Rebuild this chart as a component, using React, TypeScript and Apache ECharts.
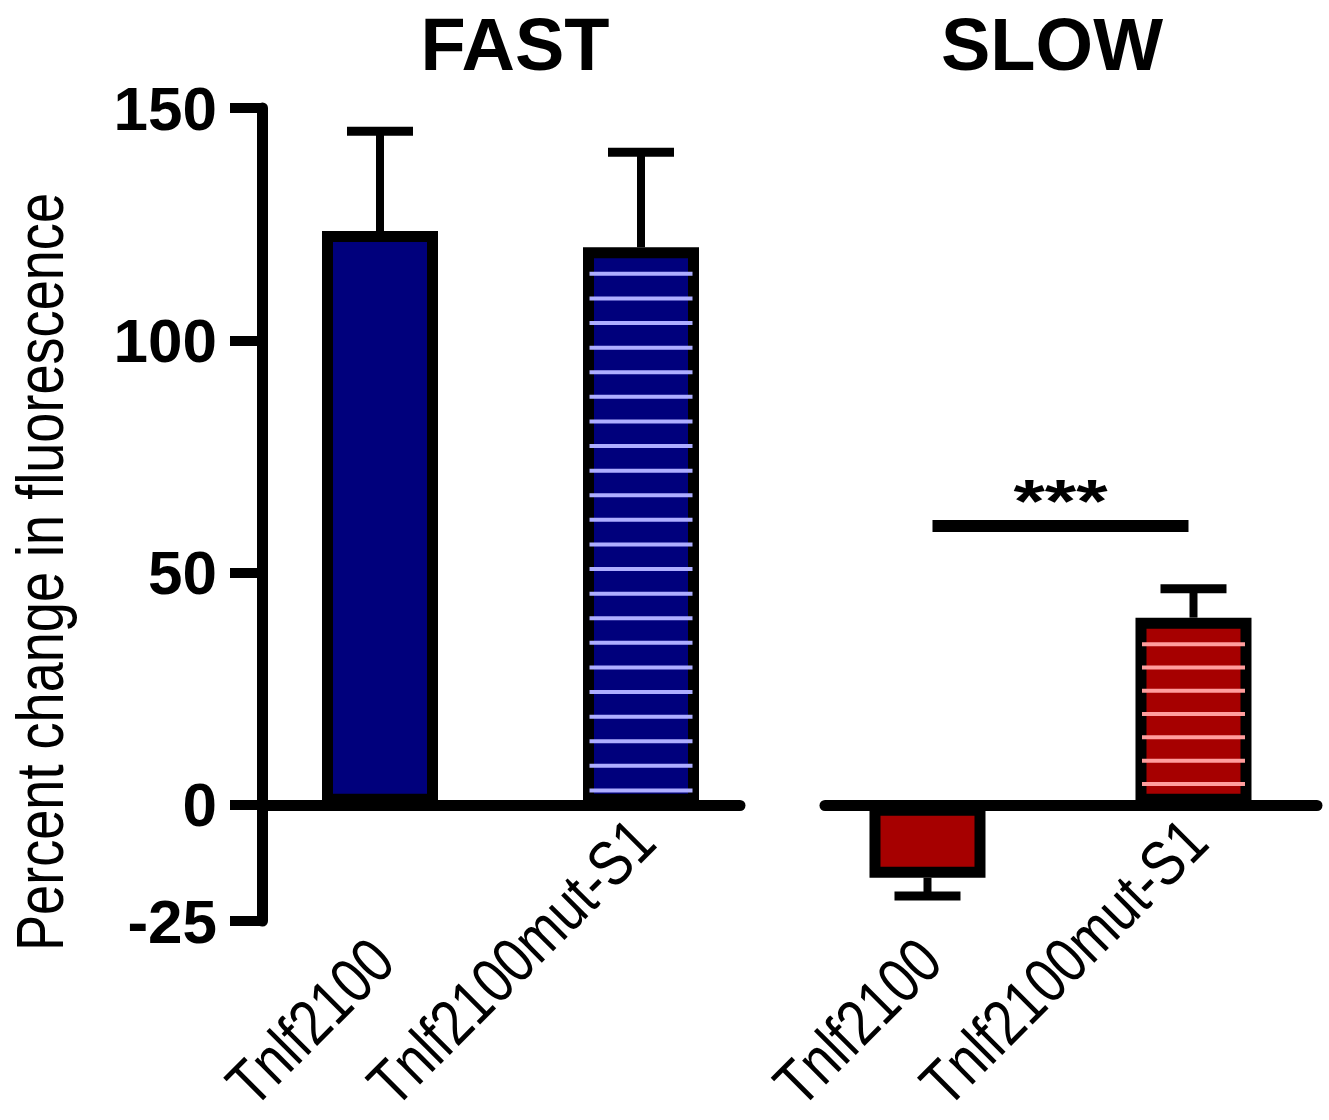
import React, { useEffect, useRef } from 'react';
import * as echarts from 'echarts';

// ---------- data ----------
const panelTitles = ['FAST', 'SLOW'];
const categories = ['Tnlf2100', 'Tnlf2100mut-S1'];
const hatched = [false, true];
const fastMeans = [123.5, 120];
const fastErrTop = [145, 140.5];
const slowMeans = [-15.7, 40.3];
const slowErrEnd = [-19.6, 46.5];
const yTicks = [-25, 0, 50, 100, 150];
const yMin = -25;
const yMax = 150;
const yAxisName = 'Percent change in fluorescence';
const sigLabel = '***';
const sigLevel = 60;
const sigPair = [0, 1];

// ---------- styles ----------
const SANS = "'Liberation Sans', Arial, Helvetica, sans-serif";
const NARROW_SCALE = 0.82;
const BLUE = '#00007c';
const RED = '#a60000';
const BLUE_STRIPE = '#aeaeff';
const RED_STRIPE = '#ff9d9d';
const BAR_W = 116;
const BORDER = 11;
const CAP_W = 66;

const panelColors = [BLUE, RED];
const stripeColors = [BLUE_STRIPE, RED_STRIPE];
const stripeSpacing = [24.6, 23.3];
const panelMeans = [fastMeans, slowMeans];
const panelErr = [fastErrTop, slowErrEnd];

// layout of the two panels (pixels)
const grids = [
  { left: 262, top: 108, width: 478, height: 813 },
  { left: 825, top: 108, width: 492, height: 813 },
];
const xRanges = [
  [-0.4521, 1.3793],
  [-0.3853, 1.4643],
];
const titleX = [515, 1052];
const LABEL_FONT = `64px ${SANS}`;
const LABEL_END_DX = 2;
const LABEL_START_DY = 289; // below the zero line

function measure(text: string, font: string) {
  const cv = document.createElement('canvas');
  const ctx = cv.getContext('2d')!;
  ctx.font = font;
  return ctx.measureText(text).width;
}

export default function App() {
  const ref = useRef<HTMLDivElement>(null);

  useEffect(() => {
    const el = ref.current!;
    const chart = echarts.init(el, null, { renderer: 'svg' });

    const series: any[] = [];
    [0, 1].forEach((p) => {
      series.push({
        type: 'bar',
        xAxisIndex: p,
        yAxisIndex: p,
        barWidth: BAR_W,
        data: panelMeans[p].map((v, i) => [i, v]),
        itemStyle: { color: panelColors[p], borderColor: '#000', borderWidth: BORDER },
        z: 2,
      });
      series.push({
        type: 'custom',
        xAxisIndex: p,
        yAxisIndex: p,
        clip: false,
        z: 3,
        data: panelMeans[p].map((v, i) => [i, v]).filter((d, i) => hatched[i]),
        renderItem: (params: any, api: any) => {
          const x = api.value(0);
          const v = api.value(1);
          const top = api.coord([x, v]);
          const base = api.coord([x, 0]);
          const half = BAR_W / 2 - BORDER / 2 - 1;
          const children: any[] = [];
          for (let y = top[1] + 26.5; y < base[1] - BORDER / 2 - 5; y += stripeSpacing[p]) {
            children.push({
              type: 'rect',
              shape: { x: top[0] - half, y: y - 2, width: half * 2, height: 4 },
              style: { fill: stripeColors[p] },
            });
          }
          return { type: 'group', children };
        },
      });
      series.push({
        type: 'custom',
        xAxisIndex: p,
        yAxisIndex: p,
        clip: false,
        z: 3,
        data: panelMeans[p].map((v, i) => [i, v, panelErr[p][i]]),
        renderItem: (params: any, api: any) => {
          const x = api.value(0);
          const p0 = api.coord([x, api.value(1)]);
          const p1 = api.coord([x, api.value(2)]);
          return {
            type: 'group',
            children: [
              {
                type: 'line',
                shape: { x1: p0[0], y1: p0[1], x2: p1[0], y2: p1[1] },
                style: { stroke: '#000', lineWidth: 8 },
              },
              {
                type: 'line',
                shape: { x1: p1[0] - CAP_W / 2, y1: p1[1], x2: p1[0] + CAP_W / 2, y2: p1[1] },
                style: { stroke: '#000', lineWidth: 9 },
              },
            ],
          };
        },
      });
    });
    // significance bar in SLOW panel
    series.push({
      type: 'custom',
      xAxisIndex: 1,
      yAxisIndex: 1,
      clip: false,
      z: 4,
      data: [[sigPair[0], sigPair[1], sigLevel]],
      renderItem: (params: any, api: any) => {
        const a = api.coord([api.value(0), api.value(2)]);
        const b = api.coord([api.value(1), api.value(2)]);
        return {
          type: 'group',
          children: [
            {
              type: 'line',
              shape: { x1: a[0] + 5, y1: a[1], x2: b[0] - 5, y2: b[1] },
              style: { stroke: '#000', lineWidth: 12 },
            },
            {
              type: 'text',
              x: (a[0] + b[0]) / 2,
              y: a[1] + 5,
              scaleX: 1.3,
              style: {
                text: sigLabel,
                x: 0,
                y: 0,
                align: 'center',
                verticalAlign: 'bottom',
                fill: '#000',
                font: `bold 62px ${SANS}`,
              },
            },
          ],
        };
      },
    });

    const option: any = {
      animation: false,
      backgroundColor: '#fff',
      grid: grids.map((g) => ({ ...g, containLabel: false })),
      xAxis: [0, 1].map((p) => ({
        gridIndex: p,
        type: 'value',
        min: xRanges[p][0],
        max: xRanges[p][1],
        axisLine: { show: true, onZero: true, lineStyle: { color: '#000', width: 11 } },
        axisTick: { show: false },
        axisLabel: { show: false },
        splitLine: { show: false },
      })),
      yAxis: [
        {
          gridIndex: 0,
          type: 'value',
          min: yMin,
          max: yMax,
          axisLine: { show: true, onZero: false, lineStyle: { color: '#000', width: 11 } },
          axisTick: { show: true, customValues: yTicks, length: 32, lineStyle: { color: '#000', width: 10 } },
          axisLabel: {
            customValues: yTicks,
            margin: 45,
            fontSize: 62,
            fontWeight: 'bold',
            color: '#000',
            fontFamily: SANS,
          },
          splitLine: { show: false },
        },
        {
          gridIndex: 1,
          type: 'value',
          min: yMin,
          max: yMax,
          show: false,
          axisLine: { onZero: false },
          splitLine: { show: false },
        },
      ],
      series,
    };
    chart.setOption(option);

    const graphics: any[] = [];
    panelTitles.forEach((t, p) => {
      graphics.push({
        type: 'text',
        x: titleX[p],
        y: 44,
        style: {
          text: t,
          align: 'center',
          verticalAlign: 'middle',
          fill: '#000',
          font: `bold 74px ${SANS}`,
        },
      });
      categories.forEach((c, i) => {
        const pt = chart.convertToPixel({ xAxisIndex: p, yAxisIndex: p } as any, [i, 0]) as any;
        const len = measure(c, LABEL_FONT) * NARROW_SCALE;
        graphics.push({
          type: 'text',
          x: pt[0] + LABEL_END_DX - len / Math.SQRT2,
          y: pt[1] + LABEL_START_DY,
          rotation: Math.PI / 4,
          scaleX: NARROW_SCALE,
          style: {
            text: c,
            align: 'left',
            verticalAlign: 'middle',
            fill: '#000',
            font: LABEL_FONT,
          },
        });
      });
    });
    graphics.push({
      type: 'text',
      x: 40,
      y: 572,
      rotation: Math.PI / 2,
      scaleX: NARROW_SCALE,
      style: {
        text: yAxisName,
        align: 'center',
        verticalAlign: 'middle',
        fill: '#000',
        font: `66px ${SANS}`,
      },
    });
    chart.setOption({ graphic: graphics });

    return () => chart.dispose();
  }, []);

  return (
    <div
      ref={ref}
      style={{ position: 'fixed', left: 0, top: 0, width: 1329, height: 1120, background: '#fff' }}
    />
  );
}
